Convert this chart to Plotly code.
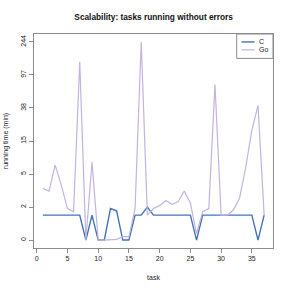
import numpy as np
import plotly.graph_objects as go

tasks = list(range(1, 38))
c_minutes = [1, 1, 1, 1, 1, 1, 1, 0, 1, 0, 0, 1.4, 1.25, 0, 0, 1, 1, 1.5, 1, 1,
             1, 1, 1, 1, 1, 0, 1, 1, 1, 1, 1, 1, 1, 1, 1, 0, 1]
go_minutes = [3.2, 2.9, 7.0, 3.6, 1.4, 1.2, 140, 0, 7.7, 0, 0, 0, 0.02, 0.1, 0.1,
              1.4, 244, 1.0, 1.4, 1.6, 2.0, 1.7, 1.9, 2.9, 1.8, 0.2, 1.2, 1.4, 74,
              1.0, 1.0, 1.3, 2.2, 6.5, 20, 41, 1.0]
series_names = ["C", "Go"]
series_colors = ["#4274bb", "#c4b3de"]
series_widths = [1.4, 1.2]
x_ticks = [0, 5, 10, 15, 20, 25, 30, 35]
y_tick_labels = ["0", "2", "5", "15", "38", "97", "244"]

FONT = "Liberation Sans, Arial, Helvetica, sans-serif"

c_t = np.log1p(np.array(c_minutes))
go_t = np.log1p(np.array(go_minutes))
ymax = max(c_t.max(), go_t.max())
y_tick_pos = np.linspace(0, ymax, len(y_tick_labels))

xr = [min(tasks), max(tasks)]
xpad = (xr[1] - xr[0]) * 0.04
ypad = ymax * 0.04

fig = go.Figure()
for name, vals, col, w in zip(series_names, [c_t, go_t], series_colors, series_widths):
    fig.add_trace(go.Scatter(x=tasks, y=vals, mode="lines", name=name,
                             line=dict(color=col, width=w), showlegend=False, hoverinfo="skip"))

# legend drawn in R style (small boxed legend at top-right of plot box)
fig.add_shape(type="rect", xref="paper", yref="paper", x0=0.848, x1=1.0, y0=0.886, y1=1.0,
              line=dict(color="#8c8c8c", width=1), fillcolor="white")
for i, (name, col, w) in enumerate(zip(series_names, series_colors, series_widths)):
    yy = 0.963 - i * 0.037
    fig.add_shape(type="line", xref="paper", yref="paper", x0=0.868, x1=0.923, y0=yy, y1=yy,
                  line=dict(color=col, width=w))
    fig.add_annotation(xref="paper", yref="paper", x=0.933, y=yy, text=name, showarrow=False,
                       xanchor="left", yanchor="middle", font=dict(size=7, color="#222", family=FONT))

axis_common = dict(showline=True, linecolor="#8c8c8c", linewidth=1, mirror=True,
                   ticks="outside", ticklen=4, tickcolor="#8c8c8c", showgrid=False,
                   zeroline=False, automargin=False,
                   tickfont=dict(size=7, color="#222", family=FONT))

fig.update_xaxes(range=[xr[0] - xpad, xr[1] + xpad], tickvals=x_ticks,
                 title=dict(text="task", font=dict(size=7, color="#222", family=FONT), standoff=13),
                 **axis_common)
fig.update_yaxes(range=[-ypad, ymax + ypad], tickvals=list(y_tick_pos), ticktext=y_tick_labels,
                 tickangle=-90,
                 title=dict(text="running time (min)", font=dict(size=7, color="#222", family=FONT),
                            standoff=10),
                 **axis_common)

fig.update_layout(
    width=291, height=291,
    margin=dict(l=34, r=17.5, t=33.5, b=42.5),
    paper_bgcolor="white", plot_bgcolor="white",
    title=dict(text="<b>Scalability: tasks running without errors</b>", x=0.528, xanchor="center",
               y=0.94, yanchor="middle", font=dict(size=8.3, color="#111", family=FONT)),
)

fig.write_html("out.html", config={"displayModeBar": False, "staticPlot": True},
               post_script="document.body.style.margin='0';document.body.style.overflow='hidden';")
